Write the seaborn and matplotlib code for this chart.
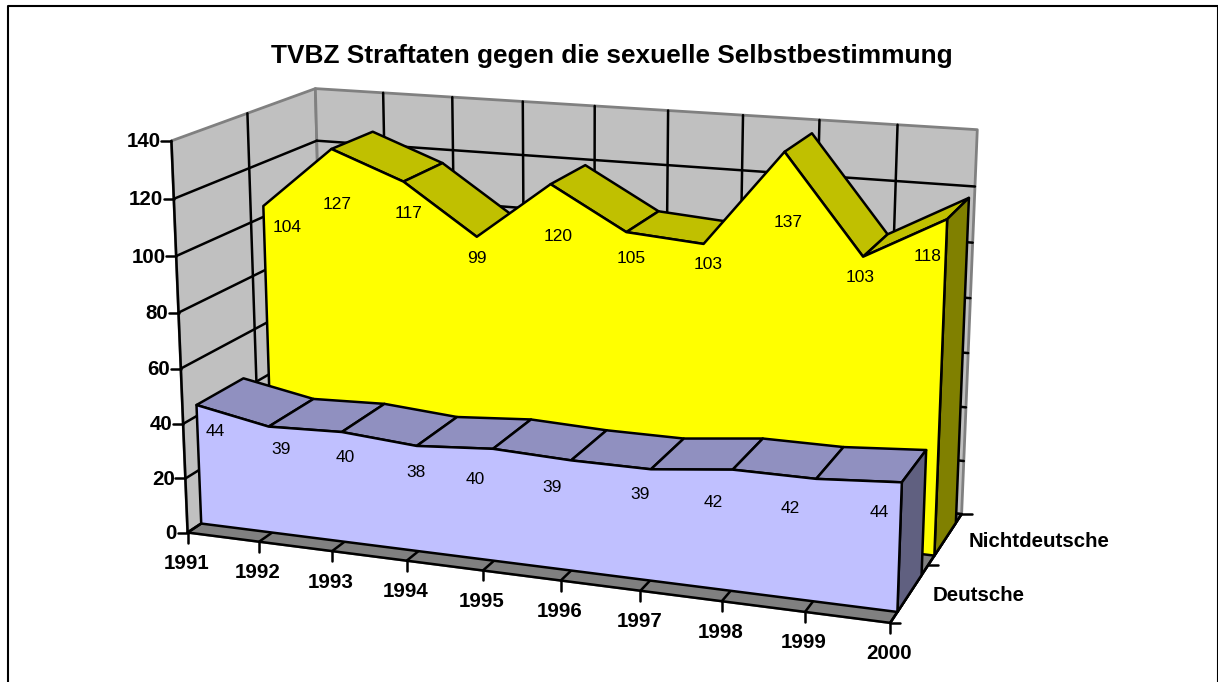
import numpy as np
import matplotlib
matplotlib.use("Agg")
import matplotlib.pyplot as plt
import seaborn as sns

# ---- data -------------------------------------------------------------
years = ["1991", "1992", "1993", "1994", "1995", "1996", "1997", "1998", "1999", "2000"]
deutsche = [44, 39, 40, 38, 40, 39, 39, 42, 42, 44]
nichtdeutsche = [104, 127, 117, 99, 120, 105, 103, 137, 103, 118]
value_ticks = [0, 20, 40, 60, 80, 100, 120, 140]
series_names = ["Deutsche", "Nichtdeutsche"]
title = "TVBZ Straftaten gegen die sexuelle Selbstbestimmung"

# pixel offsets of the data labels from their projected vertex
de_label_off = [(19, 27), (12, 23), (3, 25), (-1, 27), (-18, 31), (-19, 27), (-11, 25), (-19, 33), (-26, 30), (-23, 30)]
nd_label_off = [(24, 21), (6, 56), (5, 32), (0, 22), (8, 52), (5, 26), (5, 21), (4, 71), (-3, 21), (-20, 37)]

# ---- camera: least-squares pinhole fitted to the chart's reference frame
Z_DE = (0.09, 0.41)
Z_ND = (0.59, 0.91)
calib = [
    ((0, 140, 0), (172, 140)), ((0, 0, 0), (188, 532)), ((0, 140, 1), (316, 88)),
    ((9, 140, 1), (978, 129)), ((9, 0, 1), (961, 514)), ((9, 0, 0), (891, 623)),
    ((0, 120, 1), (316, 141)), ((0, 44, .09), (195, 405)), ((0, 0, .09), (201, 524)),
    ((9, 44, .09), (902, 482)), ((9, 0, .09), (897, 612)), ((9, 44, .41), (927, 450)),
    ((0, 44, .41), (245, 378)), ((0, 104, .59), (262, 207)), ((9, 118, .59), (946, 220)),
    ((9, 118, .91), (969, 197)), ((7, 137, .59), (783, 153)), ((7, 137, .91), (813, 133)),
    ((1, 127, .59), (332, 149)), ((1, 127, .91), (373, 132)), ((8, 103, .59), (863, 257)),
]
A, b = [], []
for (x, v, z), (u, w) in calib:
    A.append([x, v, z, 1, 0, 0, 0, 0, -u * x, -u * v, -u * z]); b.append(u)
    A.append([0, 0, 0, 0, x, v, z, 1, -w * x, -w * v, -w * z]); b.append(w)
P = np.append(np.linalg.lstsq(np.array(A, float), np.array(b, float), rcond=None)[0], 1).reshape(3, 4)


def pr(x, v, z):
    h = P @ np.array([x, v, z, 1.0])
    return h[0] / h[2], h[1] / h[2]


# ---- figure -----------------------------------------------------------
sns.set_theme(style="white")
plt.rcParams["font.family"] = ["Liberation Sans", "DejaVu Sans"]
fig = plt.figure(figsize=(12.18, 6.82), dpi=100, facecolor="white")
ax = fig.add_axes([0, 0, 1, 1])
ax.set_xlim(0, 1218)
ax.set_ylim(682, 0)
ax.axis("off")
LW = 1.8
TICK_FS = 14.8


def poly(pts, fc, ec="black", lw=LW, zo=2):
    ax.fill([p[0] for p in pts], [p[1] for p in pts], facecolor=fc, edgecolor=ec, lw=lw, zorder=zo, joinstyle="round")


def line(a, b, color="black", lw=LW, zo=3):
    sns.lineplot(x=[a[0], b[0]], y=[a[1], b[1]], color=color, lw=lw, ax=ax, zorder=zo,
                 sort=False, estimator=None, legend=False)


# frame of the chart area
ax.plot([8, 8, 1217.5, 1217.5], [682, 6, 6, 682], color="black", lw=1.5, zorder=1, clip_on=False)
ax.text(612, 56, title, ha="center", va="center", fontsize=18.9, fontweight="bold", color="black")

# walls and floor
vmax = value_ticks[-1]
n = len(years) - 1
poly([pr(0, 0, 0), pr(0, vmax, 0), pr(0, vmax, 1), pr(0, 0, 1)], "#C0C0C0", ec="#808080", lw=2, zo=1.5)
poly([pr(0, 0, 1), pr(0, vmax, 1), pr(n, vmax, 1), pr(n, 0, 1)], "#C0C0C0", ec="#808080", lw=2, zo=1.5)
poly([pr(0, 0, 0), pr(n, 0, 0), pr(n, 0, 1), pr(0, 0, 1)], "#808080", ec="#808080", zo=1.6)

# gridlines and ticks
for v in value_ticks:
    if v != vmax:
        line(pr(0, v, 0), pr(0, v, 1), zo=1.8)
        line(pr(0, v, 1), pr(n, v, 1), zo=1.8)
    x0, y0 = pr(0, v, 0)
    line((x0 - 10, y0), (x0, y0))
    ax.text(x0 - 10.5, y0 + 1, str(v), ha="right", va="center", fontsize=TICK_FS, fontweight="bold", color="black")
line(pr(0, 0, .5), pr(0, vmax, .5), zo=1.8)
line(pr(0, 0, 0), pr(0, vmax, 0), zo=1.8)
for i, yr in enumerate(years):
    if 0 < i < n:
        line(pr(i, 0, 1), pr(i, vmax, 1), zo=1.8)
    line(pr(i, 0, 0), pr(i, 0, 1), zo=1.9)
    x0, y0 = pr(i, 0, 0)
    line((x0, y0), (x0, y0 + 10))
    ax.text(x0 - 1, y0 + 31, yr, ha="center", va="center", fontsize=TICK_FS, fontweight="bold", color="black")
line(pr(0, 0, 0), pr(n, 0, 0), zo=1.9)
line(pr(n, 0, 0), pr(n, 0, 1), zo=1.9)
for z in (0, .5, 1):
    x0, y0 = pr(n, 0, z)
    line((x0, y0), (x0 + 10, y0))
for name, z, (dx, dy) in zip(series_names, (.25, .75), ((23, 2), (23, 3))):
    x0, y0 = pr(n, 0, z)
    ax.text(x0 + dx, y0 + dy, name, ha="left", va="center", fontsize=TICK_FS, fontweight="bold", color="black")


def band(values, zs, front, top, side, offs, zo):
    z0, z1 = zs
    nn = len(values) - 1
    for i in range(nn):
        q = [pr(i, values[i], z0), pr(i + 1, values[i + 1], z0), pr(i + 1, values[i + 1], z1), pr(i, values[i], z1)]
        area = sum(q[k][0] * q[(k + 1) % 4][1] - q[(k + 1) % 4][0] * q[k][1] for k in range(4))
        if area < 0:  # face visible from the camera
            poly(q, top, zo=zo)
    poly([pr(nn, 0, z0), pr(nn, values[nn], z0), pr(nn, values[nn], z1), pr(nn, 0, z1)], side, zo=zo)
    pts = [pr(0, 0, z0)] + [pr(i, values[i], z0) for i in range(nn + 1)] + [pr(nn, 0, z0)]
    poly(pts, front, zo=zo + 0.1)
    for i, val in enumerate(values):
        x0, y0 = pr(i, val, z0)
        ax.text(x0 + offs[i][0], y0 + offs[i][1], str(val), ha="center", va="center", fontsize=12.5,
                color="black", zorder=zo + 0.2)


band(nichtdeutsche, Z_ND, "#FFFF00", "#C0C000", "#808000", nd_label_off, 4)
band(deutsche, Z_DE, "#C0C0FF", "#9090C0", "#606080", de_label_off, 5)

fig.savefig("out.png", dpi=100, facecolor="white")
